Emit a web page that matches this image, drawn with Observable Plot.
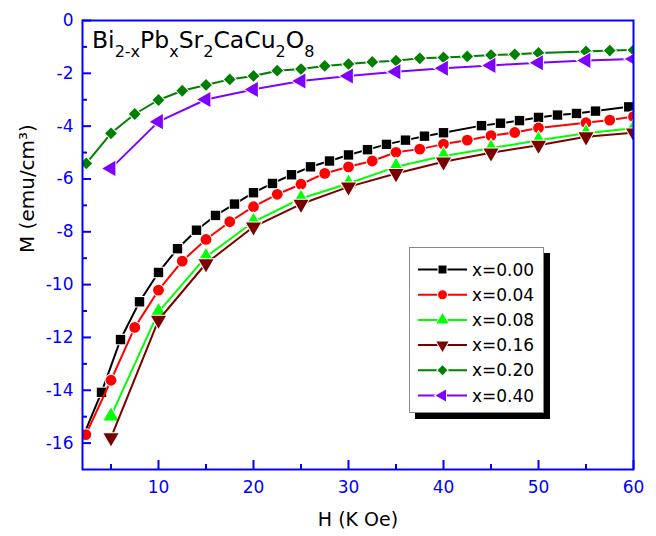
<!DOCTYPE html>
<html>
<head>
<meta charset="utf-8">
<script src="https://cdn.jsdelivr.net/npm/d3@7"></script>
<script src="https://cdn.jsdelivr.net/npm/@observablehq/plot@0.6"></script>
<style>
  body { margin: 0; background: #fff; }
  #chart { position: relative; width: 656px; height: 536px; font-family: "DejaVu Sans", sans-serif; }
  #legend {
    position: absolute; left: 409px; top: 247px; width: 133px; height: 164px;
    background: #fff; border: 1px solid #888; box-shadow: 6px 6px 0 #000;
  }
</style>
</head>
<body>
<div id="chart"></div>
<script>
// Magnetization M (emu/cm^3) versus applied field H (kOe) for Bi(2-x)Pb(x)Sr2CaCu2O8
const seriesNames = ["x=0.00", "x=0.04", "x=0.08", "x=0.16", "x=0.20", "x=0.40"];

const h000 = [2.1, 4, 6, 8, 10, 12, 14, 16, 18, 20, 22, 24, 26, 28, 30, 32, 34, 36, 38, 40, 44, 46, 48, 50, 52, 54, 56, 59.5];
const m000 = [-15.72, -14.08, -12.08, -10.65, -9.54, -8.64, -7.94, -7.38, -6.95, -6.52, -6.17, -5.84, -5.54, -5.32, -5.09, -4.89, -4.69, -4.53, -4.38, -4.25, -3.98, -3.89, -3.79, -3.67, -3.58, -3.52, -3.43, -3.27];

const h004 = [2.35, 5, 7.5, 10, 12.5, 15, 17.5, 20, 22.5, 25, 27.5, 30, 32.5, 35, 37.5, 40, 42.5, 45, 47.5, 50, 55, 57.5, 60];
const m004 = [-15.68, -13.62, -11.62, -10.21, -9.11, -8.29, -7.62, -7.05, -6.58, -6.2, -5.79, -5.54, -5.32, -4.99, -4.87, -4.68, -4.53, -4.36, -4.24, -4.07, -3.87, -3.77, -3.64];

const h008 = [5, 10, 15, 20, 25, 30, 35, 40, 45, 50, 55, 60];
const m008 = [-14.98, -11.03, -8.95, -7.62, -6.74, -6.17, -5.54, -5.13, -4.84, -4.53, -4.27, -4.08];

const h016 = [5, 10, 15, 20, 25, 30, 35, 40, 45, 50, 55, 60];
const m016 = [-15.79, -11.34, -9.2, -7.81, -6.95, -6.3, -5.79, -5.35, -5.01, -4.72, -4.4, -4.25];

const h020 = [2.4, 5, 7.5, 10, 12.5, 15, 17.5, 20, 22.5, 25, 27.5, 30, 32.5, 35, 37.5, 40, 42.5, 45, 47.5, 50, 55, 57.5, 60];
const m020 = [-5.41, -4.27, -3.54, -3.01, -2.66, -2.44, -2.23, -2.1, -1.9, -1.84, -1.72, -1.65, -1.57, -1.52, -1.43, -1.4, -1.36, -1.31, -1.28, -1.23, -1.17, -1.14, -1.12];

const h040 = [5, 10, 15, 20, 25, 30, 35, 40, 45, 50, 55, 60];
const m040 = [-5.6, -3.83, -2.99, -2.61, -2.29, -2.1, -1.94, -1.81, -1.7, -1.6, -1.51, -1.46];

const xMajorTicks = [10, 20, 30, 40, 50, 60];
const xMinorTicks = [5, 15, 25, 35, 45, 55];
const yMajorTicks = [0, -2, -4, -6, -8, -10, -12, -14, -16];
const yMinorTicks = [-1, -3, -5, -7, -9, -11, -13, -15];

const seriesColors = ["#000000", "#ff0000", "#00ff00", "#7a0000", "#007f00", "#8000ff"];
const seriesH = [h000, h004, h008, h016, h020, h040];
const seriesM = [m000, m004, m008, m016, m020, m040];
// symbol shape, rotation (degrees) and radius for each series
const seriesSymbols = [
  {symbol: "square", rotate: 0, r: 5.3},
  {symbol: "circle", rotate: 0, r: 5.4},
  {symbol: "triangle", rotate: 0, r: 5.6},
  {symbol: "triangle", rotate: 180, r: 5.6},
  {symbol: "diamond2", rotate: 0, r: 5.3},
  {symbol: "triangle", rotate: -90, r: 5.6}
];

const series = seriesNames.map((name, k) => ({
  name,
  color: seriesColors[k],
  ...seriesSymbols[k],
  data: seriesH[k].map((h, i) => ({h, m: seriesM[k][i]}))
}));

const axisFont = 17;
const marks = [];

series.forEach(s => {
  marks.push(Plot.line(s.data, {x: "h", y: "m", stroke: s.color, strokeWidth: 2, clip: true}));
  marks.push(Plot.dot(s.data, {
    x: "h", y: "m", symbol: s.symbol, r: s.r, rotate: s.rotate,
    fill: s.color, stroke: "white", strokeWidth: 2, paintOrder: "stroke", clip: true
  }));
});

marks.push(
  Plot.axisX(xMajorTicks, {anchor: "bottom", tickSize: -9, tickPadding: 20, strokeWidth: 2,
    color: "blue", fontSize: axisFont, tickFormat: d => String(d), label: null}),
  Plot.axisX(xMinorTicks, {anchor: "bottom", tickSize: -5, strokeWidth: 2,
    color: "blue", tickFormat: () => "", label: null}),
  Plot.axisY(yMajorTicks, {anchor: "left", tickSize: -9, tickPadding: 18, strokeWidth: 2,
    color: "blue", fontSize: axisFont, tickFormat: d => String(d), label: null}),
  Plot.axisY(yMinorTicks, {anchor: "left", tickSize: -5, strokeWidth: 2,
    color: "blue", tickFormat: () => "", label: null}),
  Plot.text(["H (K Oe)"], {frameAnchor: "bottom", dy: 56, fontSize: 19, fill: "black"}),
  Plot.text(["M (emu/cm³)"], {frameAnchor: "left", dx: -55, dy: 8, rotate: -90, fontSize: 20, fill: "black"}),
  Plot.frame({stroke: "blue", strokeWidth: 2})
);

const chart = Plot.plot({
  width: 656,
  height: 536,
  marginLeft: 82,
  marginRight: 23,
  marginTop: 20,
  marginBottom: 67,
  style: {fontFamily: "'DejaVu Sans', sans-serif", background: "white"},
  x: {domain: [2, 60]},
  y: {domain: [-17, 0]},
  marks
});

const root = document.getElementById("chart");
root.appendChild(chart);

// Compound formula in the upper-left corner of the plot area
const formula = [
  ["Bi", false], ["2-x", true], ["Pb", false], ["x", true], ["Sr", false], ["2", true],
  ["CaCu", false], ["2", true], ["O", false], ["8", true]
];
const title = d3.select(chart).append("text")
  .attr("x", 92).attr("y", 48)
  .attr("text-anchor", "start")
  .attr("font-family", "'DejaVu Sans', sans-serif")
  .attr("font-size", 23.5).attr("fill", "black");
let lowered = false;
formula.forEach(([t, sub]) => {
  const span = title.append("tspan").text(t);
  if (sub && !lowered) { span.attr("dy", 9).attr("font-size", 16); lowered = true; }
  else if (sub) { span.attr("font-size", 16); }
  else if (!sub && lowered) { span.attr("dy", -9); lowered = false; }
});

// Legend box: line + marker + label for each series
const legend = d3.select(root).append("div").attr("id", "legend");
const lsvg = legend.append("svg").attr("width", 133).attr("height", 164);
const symbolTypes = {square: d3.symbolSquare, circle: d3.symbolCircle, triangle: d3.symbolTriangle, diamond2: d3.symbolDiamond2};
series.forEach((s, i) => {
  const y = 21.5 + i * 25.2;
  const g = lsvg.append("g").attr("transform", `translate(0,${y})`);
  g.append("line").attr("x1", 8).attr("x2", 57).attr("y1", 0).attr("y2", 0)
    .attr("stroke", s.color).attr("stroke-width", 2);
  g.append("path")
    .attr("d", d3.symbol(symbolTypes[s.symbol], Math.PI * 4.5 * 4.5)())
    .attr("transform", `translate(32.5,0) rotate(${s.rotate})`)
    .attr("fill", s.color).attr("stroke", "white").attr("stroke-width", 2).attr("paint-order", "stroke");
  g.append("text").attr("x", 62).attr("y", 0).attr("dy", "0.36em")
    .attr("font-family", "'DejaVu Sans', sans-serif").attr("font-size", 17)
    .attr("fill", "black").text(s.name);
});
</script>
</body>
</html>
